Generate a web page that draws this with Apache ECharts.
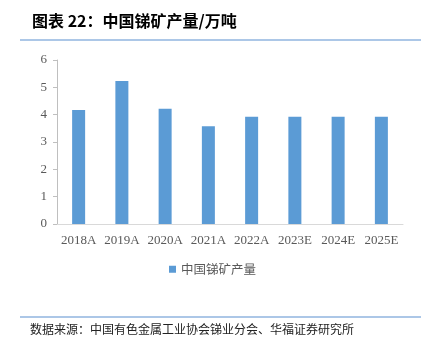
<!DOCTYPE html>
<html><head><meta charset="utf-8">
<script src="https://cdn.jsdelivr.net/npm/echarts@6/dist/echarts.min.js"></script>
<style>html,body{margin:0;padding:0;background:#fff}#c{width:425px;height:348px}</style>
</head><body><div id="c"></div>
<script>
const categories = ['2018A','2019A','2020A','2021A','2022A','2023E','2024E','2025E'];
const production = [4.17, 5.23, 4.22, 3.58, 3.92, 3.92, 3.92, 3.92];
const yTicks = [0, 6, 1];
const seriesName = '中国锑矿产量';
const titleText = '图表 22：中国锑矿产量/万吨';
const sourceText = '数据来源：中国有色金属工业协会锑业分会、华福证券研究所';

const chart = echarts.init(document.getElementById('c'), null, {renderer:'canvas'});
chart.setOption({
  animation:false,
  graphic:[
    {type:'text', left:32, top:13, style:{text:titleText, font:'bold 16px "Noto Sans CJK SC"', fill:'#000'}},
    {type:'line', shape:{x1:20,y1:40,x2:421,y2:40}, style:{stroke:'#5b8fd0', lineWidth:1.2}},
    {type:'line', shape:{x1:20,y1:317,x2:421,y2:317}, style:{stroke:'#5b8fd0', lineWidth:1.2}},
    {type:'text', left:30, top:323, style:{text:sourceText, font:'12px "Noto Sans CJK SC"', fill:'#222'}}
  ],
  legend:{show:true, top:258, left:'center', itemWidth:7, itemHeight:7, icon:'rect',
    textStyle:{fontFamily:'Noto Sans CJK SC', fontSize:12.5, color:'#595959'}, itemGap:4},
  grid:{left:57, right:22, top:60, bottom:124, containLabel:false},
  xAxis:{type:'category', data:categories,
    axisLine:{lineStyle:{color:'#d9d9d9', width:1}}, axisTick:{show:false},
    axisLabel:{interval:0, fontFamily:'Liberation Serif', fontSize:13, color:'#595959', margin:10}},
  yAxis:{type:'value', min:yTicks[0], max:yTicks[1], interval:yTicks[2],
    axisLine:{show:true, lineStyle:{color:'#bfbfbf'}}, axisTick:{show:true, inside:false, length:4, lineStyle:{color:'#bfbfbf'}},
    splitLine:{show:false},
    axisLabel:{fontFamily:'Liberation Serif', fontSize:13, color:'#595959', margin:10}},
  series:[{name:seriesName, type:'bar', data:production, barWidth:13,
    itemStyle:{color:'#5b9bd5'}}]
});
</script></body></html>
